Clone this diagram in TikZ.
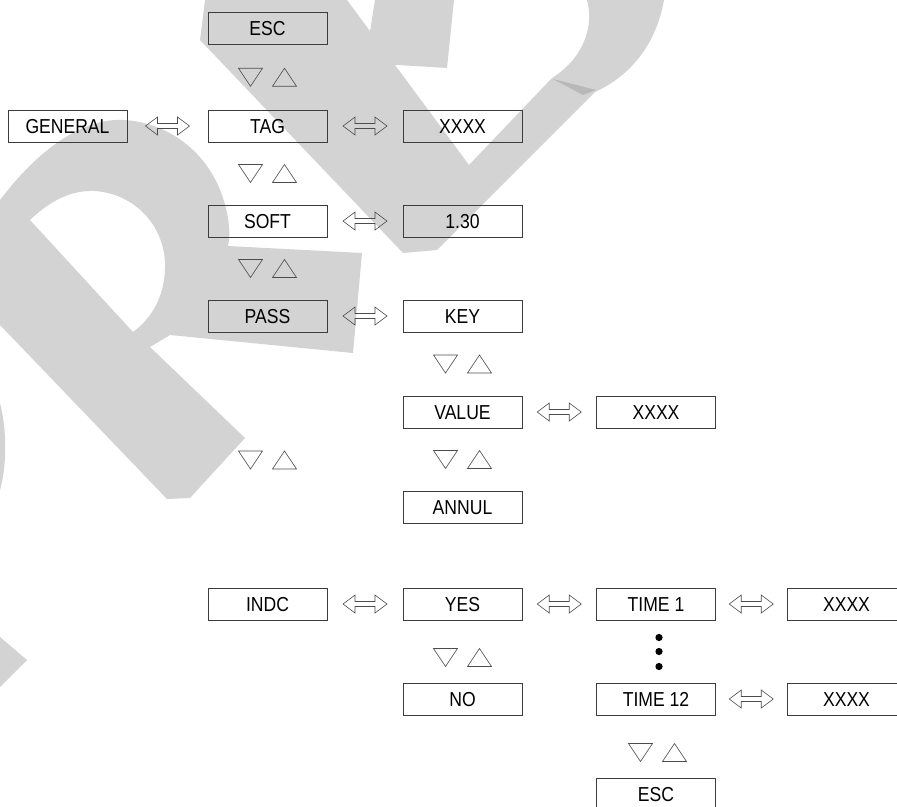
\documentclass[tikz,border=0pt]{standalone}
\usepackage{fontspec}
\newfontfamily\menufont{Liberation Sans}[FakeStretch=0.87]
\definecolor{wmgray}{RGB}{211, 211, 211}
\definecolor{wmdark}{RGB}{184, 184, 184}
\definecolor{framegray}{RGB}{60, 60, 60}
\usetikzlibrary{calc}

\begin{document}
\begin{tikzpicture}[x=1pt, y=-1pt,
  mbox/.style={draw=framegray, line width=0.7pt, minimum width=119pt, minimum height=32pt,
    inner sep=0pt, font=\menufont\fontsize{20.2}{24}\selectfont, text height=14.5pt, text depth=0pt},
  outl/.style={draw=black!70, line width=0.6pt},
  dblarrow/.pic={
    \draw[outl] (-22,0) -- (-10,-9) -- (-10,-2.5) -- (10,-2.5) -- (10,-9) -- (22,0)
      -- (10,9) -- (10,2.5) -- (-10,2.5) -- (-10,9) -- cycle;
  },
  updown/.pic={
    \draw[outl] (-29,-9) -- (-5,-9) -- (-17,9) -- cycle;
    \draw[outl] (5,9) -- (29,9) -- (17,-9) -- cycle;
  }
]
  \useasboundingbox (0,0) rectangle (897,806);

  % watermark behind the menu
  \fill[wmgray, even odd rule]
    (0,200) .. controls (38,150) and (82,118) .. (123,120)
    .. controls (168,122) and (207,152) .. (222,195)
    .. controls (229,215) and (231,235) .. (228,246)
    -- (362,253) -- (353,353) -- (170,335) -- (150,347) -- (245,438)
    -- (190,498) -- (167,499) -- (0,325) -- cycle
    (30,220) .. controls (52,199) and (73,190) .. (95,191)
    .. controls (135,194) and (163,225) .. (165,262)
    .. controls (166,295) and (152,318) .. (133,332) -- cycle;
  \fill[wmgray] (205,0) -- (347,0) -- (469,165) -- (552,78)
    .. controls (575,64) and (596,35) .. (587,0) -- (664,0)
    .. controls (656,45) and (630,76) .. (595,92)
    -- (437,250) -- (403,253) -- (200,40) -- cycle;
  \fill[wmdark] (553,79) -- (596,90) -- (583,95) -- cycle;
  \fill[wmgray] (375,0) -- (454,0) -- (447,68) -- (365,63) -- cycle;
  \fill[wmgray] (0,403) .. controls (7,430) and (7,465) .. (0,490) -- cycle;
  \fill[wmgray] (0,637) -- (27,660) -- (0,687) -- cycle;

  % menu entries
  \node[mbox] (general) at (67.5,126) {GENERAL};
  \node[mbox] (esc)     at (267.5,28.5) {ESC};
  \node[mbox] (tag)     at (267.5,126) {TAG};
  \node[mbox] (soft)    at (267.5,221) {SOFT};
  \node[mbox] (pass)    at (267.5,316) {PASS};
  \node[mbox] (indc)    at (267.5,604) {INDC};
  \node[mbox] (tagval)  at (462.5,126) {XXXX};
  \node[mbox] (softval) at (462.5,221) {1.30};
  \node[mbox] (key)     at (462.5,316) {KEY};
  \node[mbox] (value)   at (462.5,412) {VALUE};
  \node[mbox] (annul)   at (462.5,507) {ANNUL};
  \node[mbox] (yes)     at (462.5,604) {YES};
  \node[mbox] (no)      at (462.5,699) {NO};
  \node[mbox] (valx)    at (656,412) {XXXX};
  \node[mbox] (time1)   at (656,604) {TIME 1};
  \node[mbox] (time12)  at (656,699) {TIME 12};
  \node[mbox] (escend)  at (656,794) {ESC};
  \node[mbox] (timex)   at (846.5,604) {XXXX};
  \node[mbox] (timexx)  at (846.5,699) {XXXX};

  % left / right
  \foreach \a/\b in {general/tag, tag/tagval, soft/softval, pass/key, value/valx,
                     indc/yes, yes/time1, time1/timex, time12/timexx}
    \pic at ($(\a.east)!0.5!(\b.west)$) {dblarrow};

  % up / down
  \foreach \a/\b in {esc/tag, tag/soft, soft/pass, pass/indc, key/value, value/annul}
    \pic at ($(\a.south)!0.5!(\b.north)$) {updown};
  \pic at ($(yes.south)!0.5!(no.north)+(0,6)$) {updown};
  \pic at ($(time12.south)!0.5!(escend.north)+(1.5,6)$) {updown};

  % TIME 2 ... TIME 11
  \foreach \dy in {-14,0,15}
    \fill ($(time1.south)!0.5!(time12.north)+(3,\dy)$) circle (3.6);
\end{tikzpicture}
\end{document}
